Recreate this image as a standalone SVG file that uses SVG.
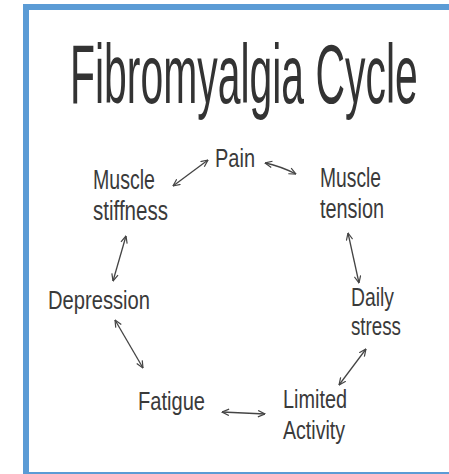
<svg xmlns="http://www.w3.org/2000/svg" width="449" height="474" viewBox="0 0 449 474">
<defs>
<style>
.frame{fill:#ffffff;stroke:#5B9BD5;stroke-width:6}
.title{font-family:"Liberation Sans",Arial,sans-serif;font-size:84px;fill:#333333}
.label{font-family:"Liberation Sans",Arial,sans-serif;font-size:25px;fill:#3a3a3a}
.conn{fill:none;stroke:#444444;stroke-width:1.3;marker-start:url(#ah);marker-end:url(#ah)}
</style>
<marker id="ah" viewBox="0 0 8 8" refX="7.5" refY="4" markerWidth="8" markerHeight="8" markerUnits="userSpaceOnUse" orient="auto-start-reverse">
<path d="M0.5,0.8 L7.5,4 L0.5,7.2" fill="none" stroke="#444444" stroke-width="1.2"/>
</marker>
</defs>
<rect class="frame" x="26" y="7" width="500" height="468"/>
<g id="title" transform="translate(70,103) scale(0.487,1)">
<text class="title" x="0" y="0">Fibromyalgia Cycle</text>
</g>
<g id="pain"><text class="label" x="215" y="167" textLength="40" lengthAdjust="spacingAndGlyphs">Pain</text></g>
<g id="muscle-stiffness">
<text class="label" x="93" y="189" style="font-size:27px" textLength="62" lengthAdjust="spacingAndGlyphs">Muscle</text>
<text class="label" x="93" y="220" style="font-size:27px" textLength="75" lengthAdjust="spacingAndGlyphs">stiffness</text>
</g>
<g id="muscle-tension">
<text class="label" x="320" y="187" style="font-size:27px" textLength="61" lengthAdjust="spacingAndGlyphs">Muscle</text>
<text class="label" x="320" y="218" style="font-size:27px" textLength="64" lengthAdjust="spacingAndGlyphs">tension</text>
</g>
<g id="depression"><text class="label" x="48" y="309" textLength="102" lengthAdjust="spacingAndGlyphs">Depression</text></g>
<g id="daily-stress">
<text class="label" x="351" y="306" textLength="43" lengthAdjust="spacingAndGlyphs">Daily</text>
<text class="label" x="351" y="335" textLength="50" lengthAdjust="spacingAndGlyphs">stress</text>
</g>
<g id="fatigue"><text class="label" x="138" y="410" textLength="67" lengthAdjust="spacingAndGlyphs">Fatigue</text></g>
<g id="limited-activity">
<text class="label" x="283" y="408" textLength="64" lengthAdjust="spacingAndGlyphs">Limited</text>
<text class="label" x="283" y="439" textLength="62" lengthAdjust="spacingAndGlyphs">Activity</text>
</g>
<g id="connectors">
<path class="conn" d="M173,186 L208,160"/>
<path class="conn" d="M265,163 Q280,166 296,174"/>
<path class="conn" d="M348,233 L359,283"/>
<path class="conn" d="M366,349 L339,385"/>
<path class="conn" d="M265,414 L222,412"/>
<path class="conn" d="M143,368 L115,320"/>
<path class="conn" d="M113,281 L126,236"/>
</g>
</svg>
